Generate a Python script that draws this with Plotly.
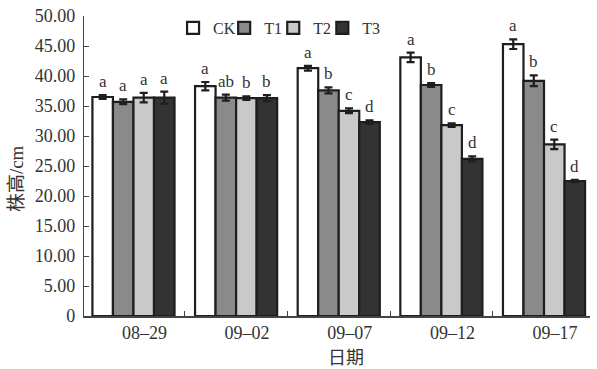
import plotly.graph_objects as go

dates = ["08–29", "09–02", "09–07", "09–12", "09–17"]
series = ["CK", "T1", "T2", "T3"]
ck = [36.5, 38.3, 41.3, 43.1, 45.3]
t1 = [35.7, 36.4, 37.6, 38.5, 39.2]
t2 = [36.4, 36.3, 34.2, 31.8, 28.6]
t3 = [36.4, 36.3, 32.3, 26.2, 22.5]
ck_err = [0.3, 0.7, 0.4, 0.8, 0.8]
t1_err = [0.4, 0.5, 0.5, 0.3, 0.9]
t2_err = [0.8, 0.3, 0.4, 0.3, 0.8]
t3_err = [1.0, 0.5, 0.3, 0.4, 0.2]
ck_sig = ["a", "a", "a", "a", "a"]
t1_sig = ["a", "ab", "b", "b", "b"]
t2_sig = ["a", "b", "c", "c", "c"]
t3_sig = ["a", "b", "d", "d", "d"]
y_ticks = [0, 5, 10, 15, 20, 25, 30, 35, 40, 45, 50]
y_ticktext = ["0", "5.00", "10.00", "15.00", "20.00", "25.00", "30.00", "35.00", "40.00", "45.00", "50.00"]
x_title = "日期"
y_title = "株高/cm"

colors = ["#ffffff", "#8a8a8a", "#c9c9c9", "#333333"]
values = [ck, t1, t2, t3]
errs = [ck_err, t1_err, t2_err, t3_err]
sigs = [ck_sig, t1_sig, t2_sig, t3_sig]
legend_ids = ["legend", "legend2", "legend3", "legend4"]
legend_x = [0.176, 0.277, 0.374, 0.471]

SERIF = "Liberation Serif, Noto Sans CJK SC, serif"

fig = go.Figure()
for name, vals, err, col, lid in zip(series, values, errs, colors, legend_ids):
    fig.add_trace(go.Bar(
        name=name, x=dates, y=vals, legend=lid,
        marker=dict(color=col, line=dict(color="#1e1e1e", width=2.2)),
        error_y=dict(type="data", array=err, visible=True, color="#1e1e1e", thickness=2.2, width=4),
    ))

offsets = [-0.3, -0.1, 0.1, 0.3]
for j, (vals, err, sg) in enumerate(zip(values, errs, sigs)):
    for i in range(len(dates)):
        fig.add_annotation(
            x=i + offsets[j], y=vals[i] + err[i], text=sg[i],
            showarrow=False, yanchor="bottom", yshift=2,
            font=dict(family=SERIF, size=17, color="#333333"),
        )

# axis titles placed as paper-anchored annotations
fig.add_annotation(xref="paper", yref="paper", x=0.518, y=-0.14, text=x_title,
                   showarrow=False, xanchor="center", yanchor="middle",
                   font=dict(family=SERIF, size=18, color="#333333"))
fig.add_annotation(xref="paper", yref="paper", x=-0.132, y=0.457, text=y_title,
                   showarrow=False, xanchor="center", yanchor="middle", textangle=-90,
                   font=dict(family=SERIF, size=19, color="#333333"))

legend_style = dict(orientation="h", xanchor="left", y=0.96, yanchor="middle",
                    font=dict(family=SERIF, size=16, color="#333333"),
                    bgcolor="rgba(0,0,0,0)", itemwidth=30)

fig.update_layout(
    width=597, height=369,
    margin=dict(l=84, r=7, t=16, b=53, autoexpand=False),
    paper_bgcolor="white", plot_bgcolor="white",
    barmode="group", bargap=0.2, bargroupgap=0,
    font=dict(family=SERIF, size=17, color="#333333"),
    showlegend=True,
    **{lid: dict(x=lx, **legend_style) for lid, lx in zip(legend_ids, legend_x)},
)
fig.update_xaxes(
    type="category", range=[-0.482, 4.448], automargin=False,
    showline=True, linecolor="#444444", linewidth=1.5,
    ticks="inside", tickson="boundaries", ticklen=5, tickcolor="#444444",
    ticklabelshift=11,
    tickfont=dict(family=SERIF, size=18, color="#333333"),
    showgrid=False, zeroline=False,
)
fig.update_yaxes(
    range=[0, 50], tickvals=y_ticks, ticktext=y_ticktext, automargin=False,
    showline=True, linecolor="#444444", linewidth=1.2,
    ticks="inside", ticklen=5, tickcolor="#444444", ticklabelstandoff=4,
    tickfont=dict(family=SERIF, size=18, color="#333333"),
    showgrid=False, zeroline=False,
)

fig.write_html("out.html", config={"displayModeBar": False},
               post_script="document.body.style.margin='0';")
